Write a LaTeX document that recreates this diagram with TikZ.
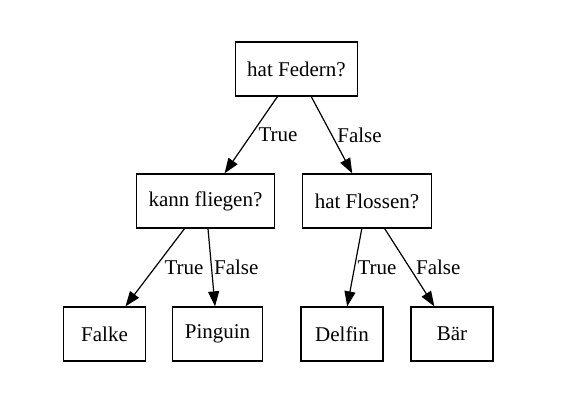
\documentclass[tikz,border=0pt]{standalone}
\usepackage{fontspec}
\setmainfont{Liberation Serif}
\usetikzlibrary{positioning,arrows.meta}
\tikzset{
  box/.style={draw=black, line width=1.3pt, rectangle, align=center, minimum height=54pt, minimum width=82pt, inner xsep=12pt, font=\fontsize{21}{24}\selectfont},
  arrow/.style={-{Triangle[length=15pt,width=11pt]}, line width=1.2pt, draw=black},
  lbl/.style={font=\fontsize{21}{24}\selectfont, inner sep=0pt, anchor=west}
}
\begin{document}
\begin{tikzpicture}[x=1pt, y=-1pt]
  \useasboundingbox[fill=white] (0,0) rectangle (564,410);
  \node[box] (federn) at (296.5,69) {hat Federn?};
  \node[box] (fliegen) at (205.5,201) {kann fliegen?};
  \node[box] (flossen) at (367,201) {hat Flossen?};
  \node[box] (falke) at (104.5,334) {Falke};
  \node[box] (pinguin) at (217.5,334) {Pinguin};
  \node[box] (delfin) at (342,334) {Delfin};
  \node[box] (baer) at (452,334) {Bär};
  \draw[arrow] (federn) -- node[lbl, xshift=7pt] {True} (fliegen);
  \draw[arrow] (federn) -- node[lbl, xshift=5pt] {False} (flossen);
  \draw[arrow] (fliegen) -- node[lbl, xshift=9pt] {True} (falke);
  \draw[arrow] (fliegen) -- node[lbl, xshift=2pt] {False} (pinguin);
  \draw[arrow] (flossen) -- node[lbl, xshift=2.5pt] {True} (delfin);
  \draw[arrow] (flossen) -- node[lbl, xshift=6pt] {False} (baer);
\end{tikzpicture}
\end{document}
